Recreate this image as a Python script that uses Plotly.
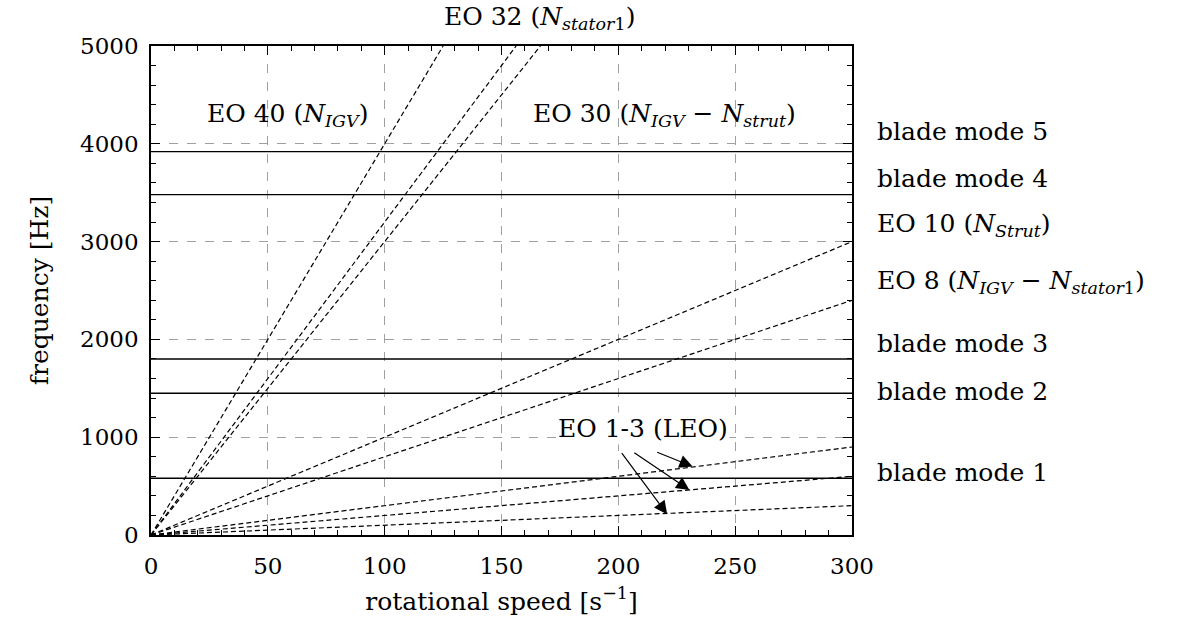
import plotly.graph_objects as go

# ---- data ----
eo_labels = ["EO 40", "EO 32", "EO 30", "EO 10", "EO 8", "EO 3", "EO 2", "EO 1"]
eo_speed_end = [125, 156.25, 166.67, 300, 300, 300, 300, 300]
eo_freq_end = [5000, 5000, 5000, 3000, 2400, 900, 600, 300]

blade_modes = ["blade mode 1", "blade mode 2", "blade mode 3", "blade mode 4", "blade mode 5"]
blade_freqs = [580, 1450, 1800, 3480, 3920]

x_ticks = [0, 50, 100, 150, 200, 250, 300]
y_ticks = [0, 1000, 2000, 3000, 4000, 5000]

FONT = "DejaVu Serif"
FS = 25
TFS = 23

fig = go.Figure()

for name, fb in zip(blade_modes, blade_freqs):
    fig.add_trace(go.Scatter(x=[0, 300], y=[fb, fb], mode="lines", name=name,
                             line=dict(color="black", width=1.4), showlegend=False))

for name, xs, ys in zip(eo_labels, eo_speed_end, eo_freq_end):
    fig.add_trace(go.Scatter(x=[0, xs], y=[0, ys], mode="lines", name=name,
                             line=dict(color="black", width=1.2, dash="5px,3px"),
                             showlegend=False))

ax_common = dict(showline=True, linecolor="black", linewidth=1.5, mirror="allticks",
                 ticks="inside", ticklen=9, tickcolor="black", tickwidth=1.2,
                 showgrid=True, gridcolor="#a0a0a0", griddash="dash", gridwidth=1,
                 zeroline=False, tickfont=dict(family=FONT, size=TFS, color="black"))

fig.update_xaxes(range=[0, 300], tickvals=x_ticks, ticklabelstandoff=10,
                 minor=dict(dtick=10, ticks="inside", ticklen=5, tickcolor="black", showgrid=False),
                 title=dict(text="rotational speed [s<sup>−1</sup>]",
                            font=dict(family=FONT, size=FS, color="black"), standoff=14),
                 **ax_common)
fig.update_yaxes(range=[0, 5000], tickvals=y_ticks, ticklabelstandoff=6,
                 minor=dict(dtick=200, ticks="inside", ticklen=5, tickcolor="black", showgrid=False),
                 title=dict(text="frequency [Hz]",
                            font=dict(family=FONT, size=FS, color="black"), standoff=24),
                 **ax_common)

af = dict(family=FONT, size=FS, color="black")

def N(sub):
    return "<i>N</i><sub><i>" + sub + "</i></sub>"

annots = [
    dict(x=166.4, y=1.057, xref="x", yref="paper", yanchor="middle",
         text="EO 32 (" + "<i>N</i><sub><i>stator</i>1</sub>" + ")"),
    dict(x=58.6, y=4294, xref="x", yref="y", text="EO 40 (" + N("IGV") + ")"),
    dict(x=219.7, y=4294, xref="x", yref="y", text="EO 30 (" + N("IGV") + " − " + N("strut") + ")"),
    dict(x=210.4, y=1094, xref="x", yref="y", text="EO 1-3 (LEO)", bgcolor="white"),
]
for a in annots:
    fig.add_annotation(showarrow=False, font=af, **a)

right_labels = [
    ("blade mode 5", 4121),
    ("blade mode 4", 3650),
    ("EO 10 (" + N("Strut") + ")", 3170),
    ("EO 8 (" + N("IGV") + " − " + "<i>N</i><sub><i>stator</i>1</sub>" + ")", 2587),
    ("blade mode 3", 1963),
    ("blade mode 2", 1472),
    ("blade mode 1", 634),
]
for t, yv in right_labels:
    fig.add_annotation(x=1.033, y=yv, xref="paper", yref="y", text=t, showarrow=False,
                       xanchor="left", yanchor="middle", font=af)

# arrows EO 1-3
arrows = [((201, 852), (220.9, 212)), ((206.2, 852), (230.4, 460)), ((216, 852), (231.8, 700))]
for (tx, ty), (hx, hy) in arrows:
    fig.add_annotation(x=hx, y=hy, ax=tx, ay=ty, xref="x", yref="y", axref="x", ayref="y",
                       text="", showarrow=True, arrowhead=2, arrowsize=2.2, arrowwidth=1.2,
                       arrowcolor="black")

fig.update_layout(width=1183, height=626, plot_bgcolor="white", paper_bgcolor="white",
                  margin=dict(l=151, r=331, t=46, b=91), font=dict(family=FONT))

fig.write_html("out.html")
